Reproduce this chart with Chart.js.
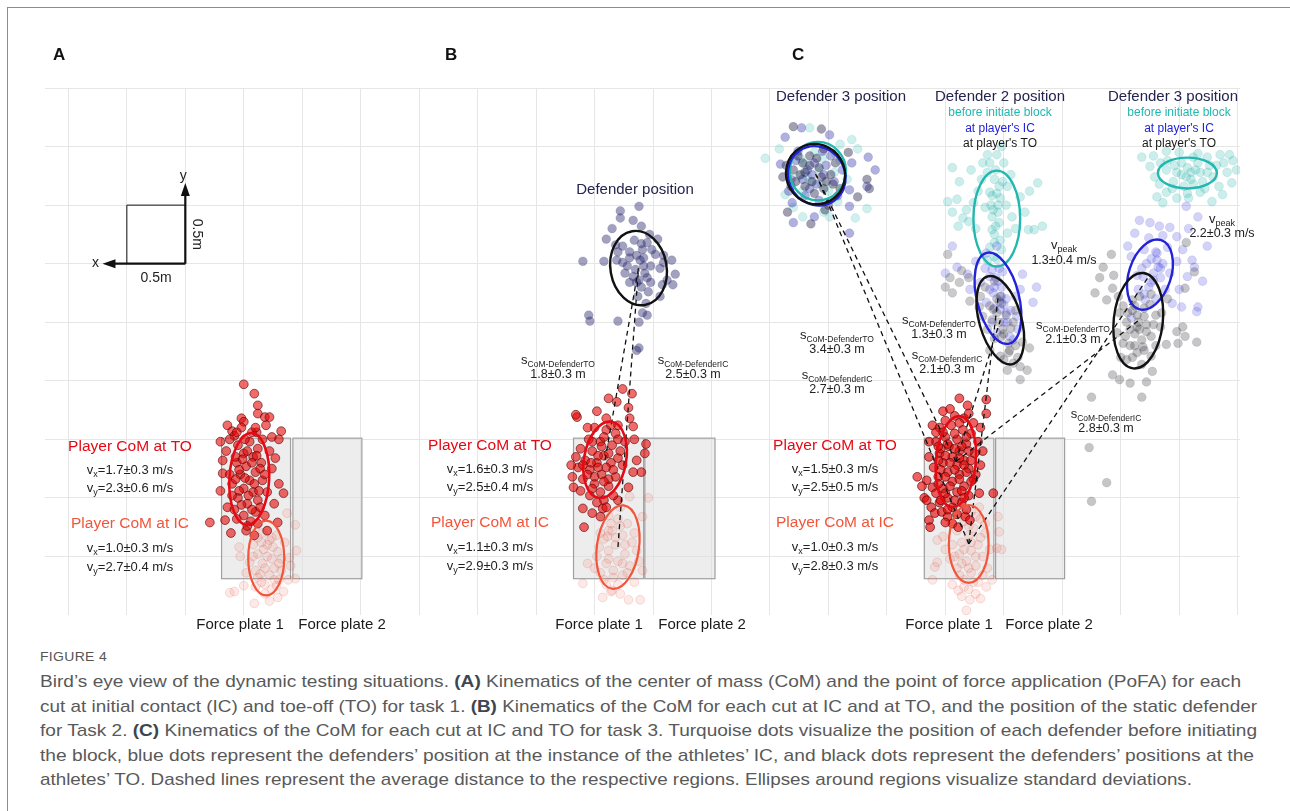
<!DOCTYPE html>
<html>
<head>
<meta charset="utf-8">
<script src="https://cdn.jsdelivr.net/npm/chart.js@4.4.1/dist/chart.umd.min.js"></script>
<style>
  html, body { margin: 0; padding: 0; background: #fff; }
  body { width: 1290px; height: 811px; position: relative; overflow: hidden; }
  #frame { position: absolute; left: 7px; top: 7px; width: 1290px; height: 811px;
           border-left: 1.5px solid #8c8c8c; border-top: 1.5px solid #8c8c8c; }
  #plot { position: absolute; left: 0; top: 0; }
  #fig { position: absolute; left: 40px; top: 649px; font: 13px "Liberation Sans Narrow", "Liberation Sans", sans-serif;
         color: #555; letter-spacing: 0.3px; white-space: nowrap; }
  #caption { position: absolute; left: 40px; top: 670px; font: 17px "Liberation Sans Narrow", "Liberation Sans", sans-serif;
             color: #595959; line-height: 24.5px; }
  #caption span { display: inline-block; white-space: nowrap; transform-origin: 0 50%; }
  #caption b { color: #3d4650; }
</style>
</head>
<body>
<div id="frame"></div>
<canvas id="plot" width="1290" height="640"></canvas>
<div id="fig">FIGURE 4</div>
<div id="caption">
<span data-w="1201">Bird’s eye view of the dynamic testing situations. <b>(A)</b> Kinematics of the center of mass (CoM) and the point of force application (PoFA) for each</span><br>
<span data-w="1217">cut at initial contact (IC) and toe-off (TO) for task 1. <b>(B)</b> Kinematics of the CoM for each cut at IC and at TO, and the position of the static defender</span><br>
<span data-w="1217">for Task 2. <b>(C)</b> Kinematics of the CoM for each cut at IC and TO for task 3. Turquoise dots visualize the position of each defender before initiating</span><br>
<span data-w="1214">the block, blue dots represent the defenders’ position at the instance of the athletes’ IC, and black dots represent the defenders’ positions at the</span><br>
<span data-w="1152">athletes’ TO. Dashed lines represent the average distance to the respective regions. Ellipses around regions visualize standard deviations.</span>
</div>
<script>
// positions in metres, bird's eye view (x lateral, y forward)
const GRID_X = [0, 0.5, 1, 1.5, 2, 2.5, 3, 3.5, 4, 4.5, 5, 5.5, 6, 6.5, 7, 7.5, 8, 8.5, 9, 9.5, 10];
const GRID_Y = [0.5, 1, 1.5, 2, 2.5, 3, 3.5, 4, 4.5];

// task 1
const A_TO = [[1.50,1.97],[1.59,1.89],[1.62,1.79],[1.62,1.72],[1.68,1.69],[1.72,1.69],[1.48,1.68],[1.50,1.65],
  [1.40,1.57],[1.42,1.53],[1.61,1.56],[1.82,1.57],[1.80,1.50],[1.74,1.52],[1.38,1.50],[1.32,1.32],[1.32,1.21],
  [1.30,1.06],[1.36,0.92],[1.34,0.81],[1.39,0.70],[1.59,0.68],[1.70,0.72],[1.79,0.79],[1.84,1.04],[1.76,0.95],
  [1.21,0.79],[1.52,0.72],[1.45,1.45],[1.55,1.48],[1.62,1.42],[1.50,1.38],[1.58,1.35],[1.44,1.30],[1.65,1.30],
  [1.52,1.27],[1.60,1.22],[1.47,1.20],[1.55,1.15],[1.40,1.12],[1.66,1.15],[1.50,1.08],[1.58,1.05],[1.45,1.00],
  [1.62,0.98],[1.53,0.95],[1.42,0.90],[1.60,0.88],[1.50,0.85],[1.68,0.85],[1.56,0.80],[1.46,1.24],[1.70,1.05],
  [1.38,1.20],[1.57,1.56],[1.66,1.50],[1.48,1.60],[1.72,1.40],[1.35,1.40],[1.74,1.25],
  [1.43,1.35],[1.53,1.40],[1.61,1.36],[1.49,1.33],[1.57,1.30],[1.64,1.25],[1.43,1.16],[1.51,1.17],[1.59,1.12],
  [1.46,1.06],[1.54,1.02],[1.63,1.06],[1.48,0.94],[1.57,0.90],[1.64,0.92],[1.44,0.82],[1.53,0.76],[1.62,0.78],
  [1.40,1.02],[1.68,1.20],[1.51,1.50],[1.60,1.60],[1.44,1.56],[1.69,1.62],[1.36,1.62],[1.77,1.34],[1.30,1.48],[1.80,1.12]];
const A_IC = [[1.38,0.19],[1.46,0.58],[1.59,0.10],[1.79,0.15],[1.95,0.55],[1.94,0.31],[1.94,0.77],[1.87,0.87],
  [1.72,0.64],[1.89,0.49],[1.42,0.20],[1.47,0.50],[1.60,0.75],[1.70,0.72],[1.78,0.68],[1.65,0.62],[1.75,0.58],
  [1.62,0.52],[1.70,0.50],[1.82,0.48],[1.66,0.44],[1.76,0.40],[1.60,0.38],[1.72,0.34],[1.80,0.30],[1.65,0.28],
  [1.74,0.22],[1.68,0.18],[1.58,0.60],[1.85,0.62],[1.55,0.45],[1.82,0.38],[1.70,0.60],[1.64,0.35],[1.78,0.25],[1.72,0.12],
  [1.62,0.66],[1.74,0.66],[1.67,0.56],[1.79,0.54],[1.58,0.50],[1.68,0.40],[1.80,0.44],[1.62,0.32],[1.76,0.30],
  [1.68,0.26],[1.84,0.20],[1.60,0.24],[1.90,0.42],[1.52,0.36],[1.74,0.48],[1.66,0.70],[1.88,0.30],[1.50,0.25]];

// task 2
const B_TO = [[4.74,1.93],[4.82,1.89],[4.35,1.69],[4.62,1.85],[4.69,1.82],[4.79,1.77],[4.80,1.68],[4.83,1.61],
  [4.34,1.71],[4.94,1.46],[4.93,1.38],[4.90,1.22],[4.83,1.22],[4.79,1.09],[4.32,1.09],[4.31,1.18],[4.34,1.35],
  [4.40,0.91],[4.48,0.87],[4.55,0.84],[4.41,0.75],[4.57,0.91],[4.70,0.98],[4.50,1.60],[4.60,1.58],[4.68,1.55],
  [4.45,1.50],[4.55,1.48],[4.65,1.45],[4.72,1.40],[4.48,1.40],[4.58,1.36],[4.42,1.32],[4.52,1.30],[4.64,1.30],
  [4.74,1.28],[4.46,1.24],[4.56,1.20],[4.68,1.18],[4.40,1.16],[4.50,1.12],[4.62,1.10],[4.55,1.05],[4.46,1.02],
  [4.66,1.02],[4.38,1.42],[4.60,1.68],[4.70,1.62],[4.52,1.74],[4.44,1.60],[4.76,1.48],[4.36,1.26],[4.58,0.98],
  [4.48,1.48],[4.56,1.44],[4.62,1.38],[4.53,1.36],[4.47,1.30],[4.60,1.26],[4.53,1.26],[4.70,1.34],[4.44,1.20],
  [4.62,1.16],[4.50,1.18],[4.58,1.14],[4.66,1.24],[4.40,1.28],[4.70,1.50],[4.58,1.52],[4.48,1.08],[4.64,1.62],
  [4.38,1.06],[4.30,1.28],[4.86,1.32],[4.60,0.92],[4.52,0.96],[4.84,1.50]];
const B_IC = [[4.40,0.27],[4.44,0.44],[4.57,0.15],[4.79,0.13],[4.89,0.13],[4.91,0.38],[4.96,1.00],[4.80,1.01],
  [4.91,0.84],[4.65,0.21],[4.62,0.85],[4.70,0.82],[4.78,0.78],[4.65,0.72],[4.74,0.68],[4.58,0.65],[4.82,0.62],
  [4.68,0.60],[4.62,0.55],[4.76,0.52],[4.70,0.46],[4.60,0.44],[4.80,0.42],[4.66,0.38],[4.74,0.34],[4.58,0.30],
  [4.70,0.26],[4.64,0.20],[4.55,0.36],[4.86,0.55],[4.52,0.50],[4.84,0.28],[4.62,0.72],[4.72,0.92],[4.55,0.70],[4.61,0.67],
  [4.64,0.78],[4.72,0.76],[4.68,0.66],[4.76,0.60],[4.62,0.48],[4.74,0.44],[4.66,0.32],[4.78,0.36],[4.60,0.26],
  [4.72,0.18],[4.84,0.70],[4.54,0.58],[4.88,0.46],[4.50,0.40]];
const B_DEF = [[4.88,3.49],[4.72,3.45],[4.83,3.37],[4.72,3.39],[4.65,3.30],[4.60,3.21],[4.97,3.25],[4.90,3.17],
  [4.91,3.12],[4.99,3.12],[4.74,3.15],[5.04,3.21],[5.09,3.07],[5.16,3.03],[5.19,2.91],[5.17,2.82],[5.08,2.82],
  [4.95,2.88],[4.89,3.03],[4.86,3.07],[4.83,2.89],[4.74,3.01],[4.69,3.03],[4.58,3.02],[4.40,3.02],[4.68,3.16],
  [4.78,2.98],[4.90,2.80],[4.87,2.72],[4.95,2.56],[4.91,2.58],[4.45,2.56],[4.46,2.51],[4.70,2.51],[4.88,2.50],
  [4.88,2.28],[4.86,2.26],[5.12,2.86],[5.09,3.01],[4.80,2.84],[4.96,2.76],[5.06,2.72],[4.92,3.05],[4.85,2.95],
  [4.93,2.92],[4.80,3.10],[4.98,2.98],[4.88,2.86],[4.84,3.20],[4.95,3.18],[4.80,3.05],[5.02,3.08],[4.92,2.98],
  [4.86,2.84],[4.98,2.84],[4.76,2.92],[4.90,3.32],[5.06,2.96],[4.70,3.10],[4.94,2.66]];

// task 3 player
const C_TO = [[7.62,1.85],[7.85,1.84],[7.85,1.72],[7.48,1.74],[7.39,1.62],[7.26,1.18],[7.32,1.00],[7.38,0.92],
  [7.36,0.81],[7.37,0.75],[7.41,0.87],[7.47,0.88],[7.52,0.84],[7.56,0.78],[7.61,0.75],[7.67,0.84],[7.71,0.81],
  [7.91,1.04],[7.79,1.04],[7.74,1.64],[7.69,1.79],[7.34,1.15],[7.39,1.09],[7.45,0.96],[7.50,0.79],[7.45,1.60],
  [7.55,1.62],[7.65,1.58],[7.72,1.55],[7.50,1.52],[7.60,1.50],[7.42,1.48],[7.68,1.46],[7.53,1.44],[7.62,1.40],
  [7.45,1.38],[7.75,1.38],[7.56,1.35],[7.66,1.32],[7.48,1.30],[7.60,1.28],[7.40,1.26],[7.70,1.25],[7.52,1.22],
  [7.62,1.20],[7.44,1.18],[7.74,1.16],[7.56,1.14],[7.66,1.10],[7.48,1.08],[7.60,1.05],[7.70,1.02],[7.52,1.00],
  [7.64,0.96],[7.56,0.92],[7.68,0.90],[7.46,1.42],[7.58,1.70],[7.66,1.68],[7.50,1.66],[7.78,1.48],[7.36,1.35],[7.80,1.28],
  [7.48,1.56],[7.58,1.55],[7.68,1.52],[7.52,1.46],[7.64,1.44],[7.44,1.44],[7.58,1.42],[7.70,1.40],[7.50,1.36],
  [7.62,1.34],[7.72,1.32],[7.44,1.32],[7.54,1.30],[7.66,1.28],[7.46,1.24],[7.58,1.24],[7.68,1.22],[7.50,1.18],
  [7.62,1.16],[7.72,1.14],[7.44,1.12],[7.54,1.10],[7.64,1.06],[7.50,1.04],[7.58,0.98],[7.46,0.98],[7.66,1.00],
  [7.60,0.86],[7.52,0.90],[7.42,1.56],[7.62,1.64],[7.70,1.72],[7.54,1.76],[7.80,1.60],[7.36,1.48],[7.42,1.04],
  [7.76,1.20],[7.82,1.40],[7.30,1.10],[7.34,0.98]];
const C_IC = [[7.43,0.45],[7.41,0.41],[7.39,0.30],[7.61,0.21],[7.71,0.13],[7.85,0.24],[7.94,0.57],[7.98,0.56],
  [7.96,0.71],[7.95,0.84],[7.79,0.92],[7.48,0.67],[7.43,0.64],[7.68,0.04],[7.62,0.90],[7.72,0.88],[7.80,0.82],
  [7.66,0.80],[7.74,0.74],[7.60,0.72],[7.84,0.70],[7.70,0.68],[7.64,0.62],[7.78,0.60],[7.72,0.55],[7.62,0.52],
  [7.82,0.50],[7.68,0.46],[7.76,0.42],[7.60,0.40],[7.72,0.36],[7.66,0.30],[7.78,0.28],[7.70,0.22],[7.56,0.60],
  [7.86,0.40],[7.54,0.48],[7.64,0.16],[7.80,0.14],[7.66,0.86],[7.76,0.84],[7.70,0.76],[7.80,0.66],[7.66,0.56],
  [7.76,0.50],[7.70,0.40],[7.82,0.34],[7.62,0.34],[7.74,0.28],[7.66,0.24],[7.76,0.18],[7.58,0.50],[7.88,0.56],
  [7.50,0.56],[7.90,0.30],[7.56,0.26],[7.84,0.78],[7.72,0.62],[7.64,0.44]];

// task 3 defender 3 (left)
const D3L_BEFORE = [[5.96,3.90],[6.75,3.98],[6.83,3.47],[6.28,3.40],[6.51,3.40],[6.73,3.39],[6.34,4.16],[6.60,4.02],
  [6.13,3.59],[6.58,3.53],[6.30,3.85],[6.45,3.90],[6.55,3.78],[6.35,3.70],[6.50,3.62],[6.25,3.75],[6.42,3.80],
  [6.60,3.88],[6.38,3.95],[6.28,3.62],[6.32,3.74],[6.44,3.68],[6.26,3.90],[6.56,3.94],[6.66,3.72],[6.20,3.48],
  [6.46,3.44],[6.70,4.06],[6.08,3.98]];
const D3L_IC = [[6.84,3.91],[6.90,3.80],[6.83,3.66],[6.68,3.63],[6.68,3.49],[6.20,3.35],[6.38,3.40],[6.68,3.26],
  [6.13,4.08],[6.27,4.16],[6.51,4.10],[6.09,3.85],[6.19,3.52],[6.32,3.80],[6.48,3.84],[6.22,3.88],[6.40,3.68],
  [6.55,3.70],[6.30,3.58],[6.45,3.96],[6.18,3.72],[6.62,3.80],[6.36,3.76],[6.28,3.72],[6.38,3.86],[6.46,3.76],
  [6.34,3.64],[6.52,3.92],[6.24,3.96],[6.58,3.58],[6.16,3.62],[6.42,3.54],[6.70,3.86]];
const D3L_TO = [[6.83,3.72],[6.85,3.64],[6.75,3.57],[6.35,3.34],[6.47,3.46],[6.20,4.17],[6.44,4.15],[6.67,3.95],
  [6.11,3.74],[6.15,3.44],[6.20,3.80],[6.26,3.76],[6.34,3.84],[6.44,3.74],[6.30,3.66],[6.52,3.76],[6.40,3.90],
  [6.24,3.92],[6.56,3.86],[6.38,3.60],[6.18,3.66],[6.46,3.64],[6.30,3.78],[6.36,3.70],[6.42,3.82],[6.28,3.86],
  [6.48,3.70],[6.34,3.92],[6.22,3.70],[6.54,3.68],[6.46,3.98],[6.14,3.84],[6.60,3.64],[6.50,3.50]];

// task 3 defender 2
const D2_BEFORE = [[7.86,3.93],[7.94,3.93],[7.82,3.86],[7.88,3.86],[7.56,3.82],[7.62,3.70],[8.29,3.69],[8.22,3.62],
  [8.33,3.32],[8.21,3.29],[8.26,3.29],[7.56,3.44],[7.65,3.39],[7.61,3.32],[7.70,3.36],[7.52,3.53],[7.60,3.55],
  [7.99,3.70],[8.03,3.66],[7.88,3.61],[7.91,3.46],[7.90,3.29],[7.92,3.18],[7.92,3.06],[7.86,3.03],[8.03,3.26],
  [8.07,3.40],[7.81,3.72],[7.97,3.56],[8.14,3.57],[7.74,3.52],[7.93,3.80],[7.95,3.50],[7.90,3.40],[7.96,3.35],
  [7.92,3.25],[7.98,3.12],[7.94,3.60],[7.89,3.50],[7.92,3.72],[7.96,3.66],[7.90,3.58],[7.95,3.44],[7.93,3.32],
  [7.97,3.20],[7.88,3.14],[7.94,3.04],[7.84,3.48],[8.02,3.50],[7.86,3.78],[8.00,3.86],[7.78,3.62],[8.10,3.30],
  [7.68,3.46],[8.18,3.44],[7.76,3.30],[8.06,3.76],[7.72,3.80],[7.98,4.00]];
const D2_IC = [[7.85,3.09],[7.94,3.15],[7.56,3.15],[7.60,2.97],[7.50,2.92],[7.69,2.91],[7.71,2.78],[7.88,2.89],
  [7.99,2.93],[8.14,2.78],[8.25,2.67],[7.91,2.75],[7.97,2.61],[8.03,2.50],[8.05,2.38],[7.90,2.50],[7.85,2.67],
  [8.11,2.55],[8.16,2.91],[8.08,2.35],[7.94,2.41],[8.28,2.80],[7.95,2.85],[7.98,2.72],[8.00,2.65],[7.92,2.80],
  [8.02,2.58],[7.96,2.96],[7.90,2.95],[7.93,2.88],[7.98,2.80],[7.96,2.68],[8.02,2.70],[7.92,2.62],[8.06,2.60],
  [8.00,2.50],[7.88,2.78],[8.10,2.72],[7.84,2.96],[7.80,2.84],[8.12,2.44],[7.76,3.02]];
const D2_TO = [[7.52,3.08],[7.62,2.84],[7.50,2.80],[7.56,2.75],[7.71,2.68],[7.84,2.80],[7.82,2.55],[7.91,2.61],
  [7.99,2.44],[8.05,2.26],[7.97,2.21],[8.08,2.15],[8.14,2.12],[8.03,2.09],[8.20,2.09],[8.14,2.01],[7.88,2.26],
  [7.79,2.63],[7.97,2.72],[8.08,2.50],[8.16,2.33],[7.92,2.85],[7.54,2.88],[7.96,2.50],[8.00,2.40],[7.94,2.58],
  [8.04,2.32],[7.98,2.66],[8.06,2.45],[7.94,2.70],[7.90,2.52],[8.02,2.56],[7.98,2.38],[8.04,2.24],[7.92,2.36],
  [8.10,2.30],[7.86,2.44],[8.10,2.60],[7.88,2.64],[8.00,2.18],[7.70,2.88],[7.64,2.94],[7.80,2.72],[8.22,2.28],[8.12,2.20]];

// task 3 defender 3 (right)
const D3R_BEFORE = [[9.18,3.91],[9.25,3.83],[9.29,3.74],[9.33,3.68],[9.39,3.61],[9.48,3.56],[9.57,3.60],[9.68,3.61],
  [9.78,3.53],[9.87,3.59],[9.95,3.69],[9.99,3.80],[9.93,3.93],[9.85,3.93],[9.74,3.91],[9.62,3.91],[9.50,3.95],
  [9.39,3.96],[9.56,3.74],[9.48,3.78],[9.68,3.78],[9.79,3.74],[9.39,3.80],[9.91,3.78],[9.57,3.82],[9.31,3.57],
  [9.36,3.52],[9.62,3.68],[9.52,3.76],[9.60,3.72],[9.64,3.80],[9.45,3.70],[9.70,3.70],[9.40,3.88],[9.46,3.84],
  [9.52,3.86],[9.66,3.86],[9.76,3.84],[9.82,3.84],[9.44,3.64],[9.54,3.66],[9.72,3.64],[9.84,3.66],[9.60,3.78],
  [9.74,3.78],[9.88,3.86],[9.34,3.86],[9.28,3.92],[9.58,3.56],[9.66,3.94],[9.96,3.88]];
const D3R_IC = [[9.16,3.37],[9.25,3.35],[9.33,3.32],[9.42,3.31],[9.12,3.26],[9.06,3.15],[9.09,3.06],[9.48,3.23],
  [9.53,3.12],[9.61,3.03],[9.57,2.89],[9.50,2.78],[9.52,2.63],[9.65,2.59],[9.66,2.63],[9.74,3.15],[9.63,2.97],
  [9.31,3.09],[9.32,2.97],[9.19,2.89],[9.26,2.84],[9.15,2.78],[9.21,2.69],[9.09,2.54],[9.31,3.03],[9.66,3.40],
  [9.56,3.49],[9.22,3.00],[9.28,2.92],[9.18,2.96],[9.24,2.80],[9.34,2.88],[9.30,3.10],[9.20,3.12],[9.26,3.04],
  [9.34,2.96],[9.28,2.86],[9.38,2.78],[9.20,2.74],[9.30,2.70],[9.36,3.00],[9.40,3.14],[9.14,2.90],[9.42,2.92],
  [9.48,3.02],[9.44,2.66],[9.24,3.22],[9.36,3.24],[9.58,3.30],[9.70,2.85]];
const D3R_TO = [[8.92,3.08],[8.85,2.97],[8.82,2.88],[8.78,2.75],[8.88,2.69],[8.93,2.79],[8.99,2.58],[8.97,2.41],
  [9.02,2.32],[9.05,2.18],[9.14,2.24],[9.19,2.29],[9.26,2.21],[9.27,2.08],[9.22,1.99],[9.08,1.98],[8.99,2.01],
  [8.93,2.05],[9.18,1.86],[8.75,1.86],[8.73,1.43],[8.88,1.13],[8.75,0.97],[9.39,2.31],[9.49,2.32],[9.65,2.33],
  [9.55,2.38],[9.48,2.42],[9.53,2.46],[9.55,2.79],[9.63,2.93],[9.56,3.18],[9.35,2.58],[9.14,2.46],[9.10,2.69],
  [9.10,2.60],[9.15,2.50],[9.20,2.55],[9.12,2.40],[9.22,2.42],[9.08,2.30],[9.18,2.35],[9.25,2.65],[9.05,2.50],
  [9.16,2.72],[9.28,2.48],[9.12,2.64],[9.20,2.62],[9.06,2.58],[9.14,2.56],[9.22,2.48],[9.08,2.44],[9.16,2.44],
  [9.26,2.38],[9.04,2.38],[9.12,2.30],[9.20,2.26],[9.10,2.20],[9.18,2.14],[9.02,2.64],[9.26,2.74],[9.30,2.56],
  [8.98,2.72],[9.00,2.20],[9.30,2.30],[9.34,2.46],[9.40,2.70],[8.94,2.90]];

// mean position and SD ellipses: [cx, cy, rx, ry, tilt deg]
const SD = {
  aTO: [1.547, 1.162, 0.17, 0.393, 3],   aIC: [1.692, 0.487, 0.154, 0.32, 0],
  bTO: [4.59, 1.325, 0.18, 0.33, 10],    bIC: [4.70, 0.58, 0.18, 0.36, 8],
  bDef: [4.876, 2.962, 0.24, 0.32, -10],
  cTO: [7.59, 1.31, 0.17, 0.39, 5],      cIC: [7.70, 0.607, 0.17, 0.333, 0],
  d3lBefore: [6.41, 3.79, 0.24, 0.25, 0], d3lIC: [6.40, 3.75, 0.24, 0.26, -35], d3lTO: [6.39, 3.765, 0.25, 0.26, -30],
  d2Before: [7.94, 3.385, 0.20, 0.41, 0], d2IC: [7.95, 2.705, 0.18, 0.40, -14], d2TO: [7.97, 2.517, 0.18, 0.39, -16],
  d3rBefore: [9.57, 3.774, 0.252, 0.132, 0], d3rIC: [9.25, 2.906, 0.18, 0.31, 18], d3rTO: [9.15, 2.513, 0.21, 0.41, 6]
};
// average distances drawn as dashed lines (from -> to)
const DIST = [['bTO','bDef'],['bIC','bDef'],['cTO','d3lTO'],['cIC','d3lIC'],['cTO','d2TO'],['cIC','d2IC'],['cTO','d3rTO'],['cIC','d3rIC']];
// force plates: [x0, x1, y0, y1]
const PLATES = [[1.31,1.90,0.31,1.51],[1.92,2.51,0.31,1.51],[4.32,4.92,0.31,1.51],[4.93,5.53,0.31,1.51],
  [7.32,7.915,0.31,1.51],[7.93,8.52,0.31,1.51]];

const FONT = '"Liberation Sans", Arial, sans-serif';
const RED = '#e50914', ORANGE = '#f2553a', NAVY = '#24244f', TURQ = '#22b7af', BLUE = '#2222d6', INK = '#222';

const pts = (arr) => arr.map(p => ({ x: p[0], y: p[1] }));

function cloud(data, fill, edge, order, bw) {
  return { data: pts(data), backgroundColor: fill, borderColor: edge, borderWidth: bw || 0.8,
           pointRadius: 4.4, order: order };
}

const ELL_STYLE = {
  aTO: [RED, 2.6], aIC: [ORANGE, 2.2], bTO: [RED, 2.6], bIC: [ORANGE, 2.2], bDef: ['#111', 2.4],
  cTO: [RED, 2.6], cIC: [ORANGE, 2.2],
  d3lBefore: [TURQ, 2.4], d3lIC: [BLUE, 2.4], d3lTO: ['#111', 2.4],
  d2Before: [TURQ, 2.4], d2IC: [BLUE, 2.4], d2TO: ['#111', 2.4],
  d3rBefore: [TURQ, 2.4], d3rIC: [BLUE, 2.4], d3rTO: ['#111', 2.4]
};

function txt(ctx, s, x, y, size, color, weight, align) {
  ctx.font = (weight || '') + ' ' + size + 'px ' + FONT;
  ctx.fillStyle = color;
  ctx.textAlign = align || 'center';
  ctx.textBaseline = 'middle';
  ctx.fillText(s, x, y);
}

// text with a subscript, centred on x
function subTxt(ctx, base, sub, rest, x, y, size, subSize, color) {
  ctx.font = size + 'px ' + FONT;
  const wb = ctx.measureText(base).width, wr = ctx.measureText(rest).width;
  ctx.font = subSize + 'px ' + FONT;
  const ws = ctx.measureText(sub).width;
  let left = x - (wb + ws + wr) / 2;
  txt(ctx, base, left, y, size, color, '', 'left');
  txt(ctx, sub, left + wb, y + size * 0.32, subSize, color, '', 'left');
  txt(ctx, rest, left + wb + ws, y, size, color, '', 'left');
}

const overlay = {
  id: 'overlay',
  beforeDatasetsDraw(chart) {
    const ctx = chart.ctx, sx = chart.scales.x, sy = chart.scales.y;
    ctx.save();
    PLATES.forEach(p => {
      const x0 = sx.getPixelForValue(p[0]), x1 = sx.getPixelForValue(p[1]);
      const y0 = sy.getPixelForValue(p[3]), y1 = sy.getPixelForValue(p[2]);
      ctx.fillStyle = 'rgba(222,222,222,0.55)';
      ctx.fillRect(x0, y0, x1 - x0, y1 - y0);
      ctx.strokeStyle = '#a0a0a0';
      ctx.lineWidth = 1.2;
      ctx.strokeRect(x0, y0, x1 - x0, y1 - y0);
    });
    // orientation key (0.5 m square)
    const kx0 = sx.getPixelForValue(0.5), kx1 = sx.getPixelForValue(1.0);
    const ky0 = sy.getPixelForValue(3.0), ky1 = sy.getPixelForValue(3.5);
    ctx.strokeStyle = '#111';
    ctx.lineWidth = 1;
    ctx.beginPath();
    ctx.moveTo(kx0, ky0); ctx.lineTo(kx0, ky1); ctx.lineTo(kx1, ky1);
    ctx.stroke();
    ctx.lineWidth = 2.2;
    const ax = sx.getPixelForValue(0.36), ay = sy.getPixelForValue(3.62);
    ctx.beginPath();
    ctx.moveTo(kx1, ky1); ctx.lineTo(kx1, ay + 4);
    ctx.moveTo(kx1, ky0); ctx.lineTo(kx0, ky0); ctx.lineTo(ax + 4, ky0);
    ctx.moveTo(kx1, ky0); ctx.lineTo(kx1, ky1);
    ctx.stroke();
    ctx.fillStyle = '#111';
    ctx.beginPath();
    ctx.moveTo(kx1, ay - 8); ctx.lineTo(kx1 - 4.5, ay + 5); ctx.lineTo(kx1 + 4.5, ay + 5); ctx.closePath();
    ctx.moveTo(ax - 8, ky0); ctx.lineTo(ax + 5, ky0 - 4.5); ctx.lineTo(ax + 5, ky0 + 4.5); ctx.closePath();
    ctx.fill();
    txt(ctx, 'x', ax - 15, ky0 - 1, 14, INK);
    txt(ctx, 'y', kx1 - 2, ay - 15, 14, INK);
    txt(ctx, '0.5m', (kx0 + kx1) / 2, ky0 + 14, 14, INK);
    ctx.save();
    ctx.translate(kx1 + 12, (ky0 + ky1) / 2);
    ctx.rotate(Math.PI / 2);
    txt(ctx, '0.5m', 0, 0, 14, INK);
    ctx.restore();
    ctx.restore();
  },
  afterDatasetsDraw(chart) {
    const ctx = chart.ctx, sx = chart.scales.x, sy = chart.scales.y;
    const k = sx.getPixelForValue(1) - sx.getPixelForValue(0);
    ctx.save();
    // dashed distance lines
    ctx.strokeStyle = '#111';
    ctx.lineWidth = 1.3;
    ctx.setLineDash([5, 4]);
    DIST.forEach(d => {
      const a = SD[d[0]], b = SD[d[1]];
      ctx.beginPath();
      ctx.moveTo(sx.getPixelForValue(a[0]), sy.getPixelForValue(a[1]));
      ctx.lineTo(sx.getPixelForValue(b[0]), sy.getPixelForValue(b[1]));
      ctx.stroke();
    });
    ctx.setLineDash([]);
    Object.keys(SD).forEach(key => {
      const e = SD[key], st = ELL_STYLE[key];
      ctx.strokeStyle = st[0];
      ctx.lineWidth = st[1];
      ctx.beginPath();
      ctx.ellipse(sx.getPixelForValue(e[0]), sy.getPixelForValue(e[1]), e[2] * k, e[3] * k, e[4] * Math.PI / 180, 0, Math.PI * 2);
      ctx.stroke();
    });
    ctx.restore();
  },
  afterDraw(chart) {
    const ctx = chart.ctx;
    ctx.save();
    txt(ctx, 'A', 53, 55, 17, '#111', 'bold', 'left');
    txt(ctx, 'B', 445, 55, 17, '#111', 'bold', 'left');
    txt(ctx, 'C', 792, 55, 17, '#111', 'bold', 'left');

    const player = [
      [130, 447, '1.7±0.3', '2.3±0.6', '1.0±0.3', '2.7±0.4'],
      [490, 446, '1.6±0.3', '2.5±0.4', '1.1±0.3', '2.9±0.3'],
      [835, 446, '1.5±0.3', '2.5±0.5', '1.0±0.3', '2.8±0.3']
    ];
    player.forEach(p => {
      txt(ctx, 'Player CoM at TO', p[0], p[1], 15.5, RED);
      subTxt(ctx, 'v', 'x', '=' + p[2] + ' m/s', p[0], p[1] + 23, 13, 9, INK);
      subTxt(ctx, 'v', 'y', '=' + p[3] + ' m/s', p[0], p[1] + 41, 13, 9, INK);
      txt(ctx, 'Player CoM at IC', p[0], p[1] + 77, 15.5, ORANGE);
      subTxt(ctx, 'v', 'x', '=' + p[4] + ' m/s', p[0], p[1] + 101, 13, 9, INK);
      subTxt(ctx, 'v', 'y', '=' + p[5] + ' m/s', p[0], p[1] + 120, 13, 9, INK);
    });
    [[240, 342], [599, 702], [949, 1049]].forEach(f => {
      txt(ctx, 'Force plate 1', f[0], 625, 15, '#1a1a1a');
      txt(ctx, 'Force plate 2', f[1], 625, 15, '#1a1a1a');
    });

    txt(ctx, 'Defender position', 635, 190, 15, NAVY);
    txt(ctx, 'Defender 3 position', 841, 97, 15, NAVY);
    txt(ctx, 'Defender 2 position', 1000, 97, 15, NAVY);
    txt(ctx, 'Defender 3 position', 1173, 97, 15, NAVY);
    [1000, 1179].forEach(x => {
      txt(ctx, 'before initiate block', x, 113, 12, TURQ);
      txt(ctx, 'at player\'s IC', x, 129, 12, BLUE);
      txt(ctx, 'at player\'s TO', x, 144, 12, '#1a1a1a');
    });
    subTxt(ctx, 'v', 'peak', '', 1064, 245, 13, 9, INK);
    txt(ctx, '1.3±0.4 m/s', 1064, 261, 12.5, INK);
    subTxt(ctx, 'v', 'peak', '', 1222, 219, 13, 9, INK);
    txt(ctx, '2.2±0.3 m/s', 1222, 234, 12.5, INK);

    const dists = [
      [558, 360, 'TO', '1.8±0.3 m'], [693, 360, 'IC', '2.5±0.3 m'],
      [837, 335, 'TO', '3.4±0.3 m'], [837, 375, 'IC', '2.7±0.3 m'],
      [939, 320, 'TO', '1.3±0.3 m'], [947, 355, 'IC', '2.1±0.3 m'],
      [1073, 325, 'TO', '2.1±0.3 m'], [1106, 414, 'IC', '2.8±0.3 m']
    ];
    dists.forEach(d => {
      subTxt(ctx, 's', 'CoM-Defender' + d[2], '', d[0], d[1], 13, 8.5, INK);
      txt(ctx, d[3], d[0], d[1] + 15, 12.5, INK);
    });
    ctx.restore();
  }
};

const datasets = [
  cloud(A_TO, 'rgba(232,0,0,0.58)', 'rgba(80,0,0,0.75)', 1),
  cloud(B_TO, 'rgba(232,0,0,0.58)', 'rgba(80,0,0,0.75)', 1),
  cloud(C_TO, 'rgba(232,0,0,0.62)', 'rgba(80,0,0,0.8)', 1),
  cloud(A_IC, 'rgba(236,90,70,0.13)', 'rgba(200,60,50,0.2)', 9),
  cloud(B_IC, 'rgba(236,90,70,0.13)', 'rgba(200,60,50,0.2)', 9),
  cloud(C_IC, 'rgba(236,90,70,0.13)', 'rgba(200,60,50,0.2)', 9),
  cloud(B_DEF, 'rgba(34,34,105,0.42)', 'rgba(34,34,105,0.3)', 5, 0.5),
  cloud(D3L_BEFORE, 'rgba(40,185,175,0.22)', 'rgba(40,170,160,0.25)', 7, 0.5),
  cloud(D3L_IC, 'rgba(40,40,170,0.36)', 'rgba(40,40,150,0.3)', 6, 0.5),
  cloud(D3L_TO, 'rgba(28,28,70,0.42)', 'rgba(28,28,60,0.3)', 5, 0.5),
  cloud(D2_BEFORE, 'rgba(36,180,170,0.24)', 'rgba(36,165,155,0.28)', 7, 0.5),
  cloud(D2_IC, 'rgba(55,55,225,0.22)', 'rgba(55,55,200,0.22)', 6, 0.5),
  cloud(D2_TO, 'rgba(35,35,45,0.24)', 'rgba(35,35,45,0.2)', 5, 0.5),
  cloud(D3R_BEFORE, 'rgba(36,180,170,0.24)', 'rgba(36,165,155,0.28)', 7, 0.5),
  cloud(D3R_IC, 'rgba(55,55,225,0.22)', 'rgba(55,55,200,0.22)', 6, 0.5),
  cloud(D3R_TO, 'rgba(35,35,45,0.26)', 'rgba(35,35,45,0.2)', 5, 0.5)
];

new Chart(document.getElementById('plot').getContext('2d'), {
  type: 'scatter',
  data: { datasets: datasets },
  options: {
    responsive: false,
    animation: false,
    events: [],
    layout: { padding: { left: 45, top: 88, right: 50, bottom: 25 } },
    plugins: { legend: { display: false }, tooltip: { enabled: false } },
    scales: {
      x: {
        type: 'linear', min: -0.2, max: 10.02,
        afterBuildTicks: s => { s.ticks = GRID_X.map(v => ({ value: v })); },
        ticks: { display: false },
        grid: { color: '#e6e6e6', lineWidth: 1, drawTicks: false },
        border: { display: false }
      },
      y: {
        type: 'linear', min: 0, max: 4.5,
        afterBuildTicks: s => { s.ticks = GRID_Y.map(v => ({ value: v })); },
        ticks: { display: false },
        grid: { color: '#e6e6e6', lineWidth: 1, drawTicks: false },
        border: { display: false }
      }
    }
  },
  plugins: [overlay]
});

// fit caption lines to the widths of the original
document.querySelectorAll('#caption span').forEach(s => {
  const w = s.getBoundingClientRect().width;
  s.style.transform = 'scaleX(' + (parseFloat(s.dataset.w) / w) + ')';
});
const fig = document.getElementById('fig');
fig.style.transformOrigin = '0 50%';
fig.style.transform = 'scaleX(' + (67 / fig.getBoundingClientRect().width) + ')';
</script>
</body>
</html>
